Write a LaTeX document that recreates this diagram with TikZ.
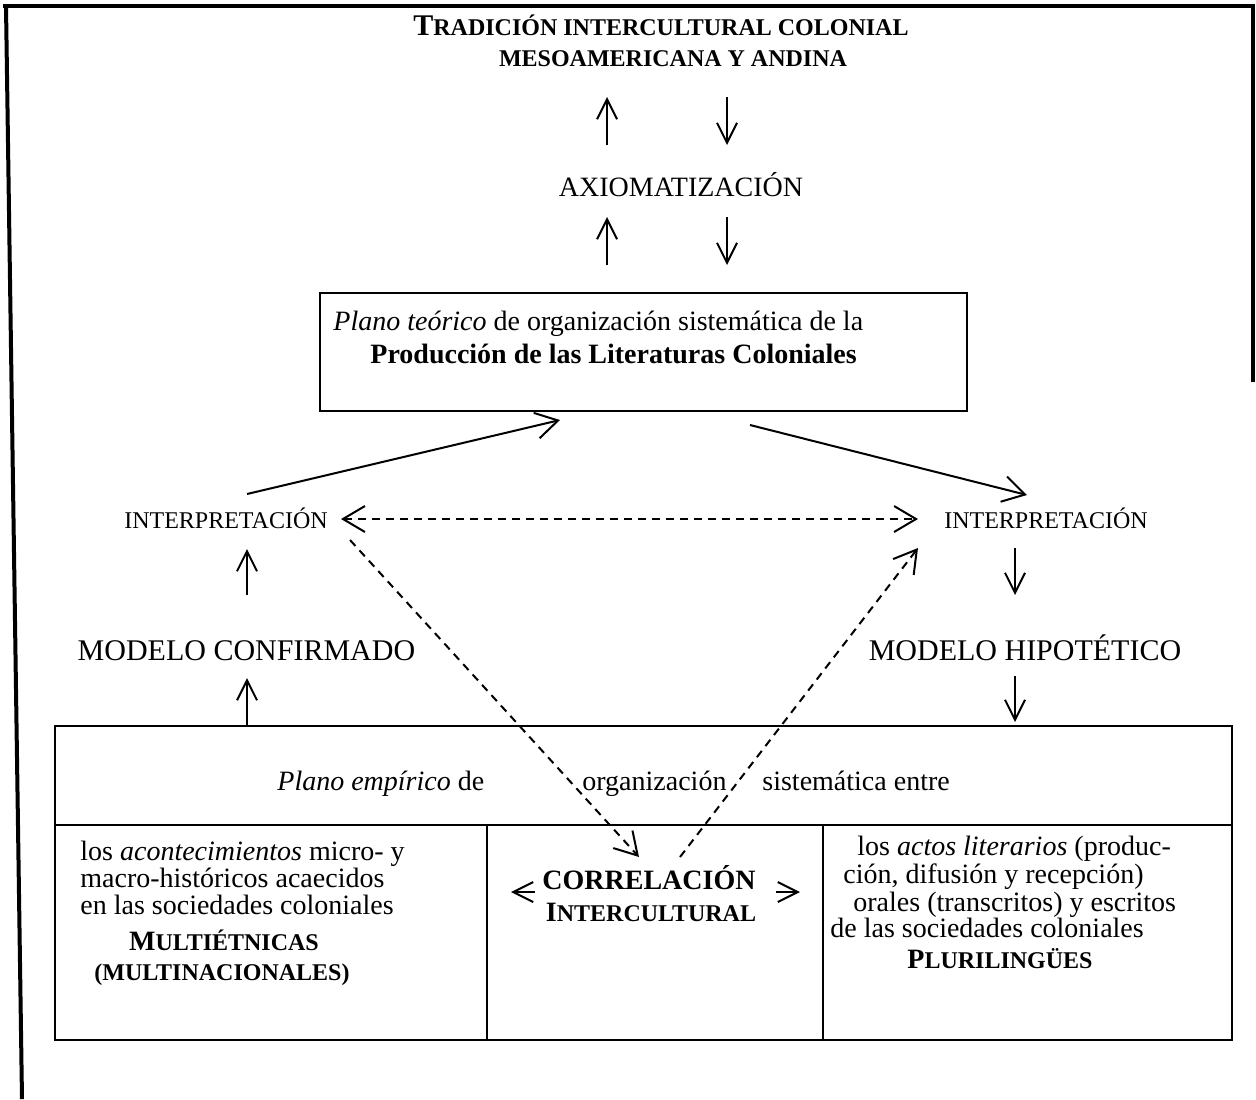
\documentclass[tikz,border=0pt]{standalone}
\usepackage{fontspec}
\setmainfont{Liberation Serif}
\usetikzlibrary{arrows.meta}
\newcommand\mysc[1]{{\fontsize{12}{14}\selectfont #1}}
\begin{document}
\begin{tikzpicture}[x=0.5pt,y=-0.5pt,
  lbl/.style={inner sep=0pt, anchor=base, font=\fontsize{14}{16}\selectfont},
  lblw/.style={inner sep=0pt, anchor=base west, font=\fontsize{14}{16}\selectfont},
  fr/.style={draw, line width=0.9pt, inner sep=0pt},
  arr/.style={line width=1pt, -{Straight Barb[length=10pt,width=10pt]}},
  sarr/.style={line width=1pt, -{Straight Barb[length=11pt,width=13pt]}},
  darr/.style={line width=1pt, dash pattern=on 4pt off 3pt, -{Straight Barb[length=11pt,width=13pt]}},
  ddarr/.style={line width=1pt, dash pattern=on 4pt off 3pt, {Straight Barb[length=11pt,width=13pt]}-{Straight Barb[length=11pt,width=13pt]}},
]
\useasboundingbox (0,0) rectangle (1256,1099);
% outer frame
\draw[line width=2pt, line join=miter] (1253,382) -- (1253,6) -- (3,6);
\draw[line width=2pt] (6,6) -- (22,1099);

% title
\node[lbl] (title1) at (661,35) {\textbf{{\fontsize{15}{18}\selectfont T}\mysc{RADICIÓN INTERCULTURAL COLONIAL}}};
\node[lbl] (title2) at (673,66) {\textbf{\mysc{MESOAMERICANA Y ANDINA}}};

% axiomatizacion
\node[lbl] (axiom) at (681,196) {AXIOMATIZACIÓN};
\coordinate (a1b) at (607,145); \coordinate (a1t) at (607,97);
\coordinate (b1t) at (727,97);  \coordinate (b1b) at (727,145);
\coordinate (a2b) at (607,265); \coordinate (a2t) at (607,217);
\coordinate (b2t) at (727,217); \coordinate (b2b) at (727,265);
\draw[arr] (a1b) -- (a1t);
\draw[arr] (b1t) -- (b1b);
\draw[arr] (a2b) -- (a2t);
\draw[arr] (b2t) -- (b2b);

% theoretical plane box
\node[fr, minimum width=323.5pt, minimum height=59pt] (teo) at (643.5,352) {};
\node[lblw] (teo1) at (333,330) {\textit{Plano teórico} de organización sistemática de la};
\node[lblw] (teo2) at (370,363) {\textbf{Producción de las Literaturas Coloniales}};

% interpretacion
\node[lbl, font=\fontsize{12}{14}\selectfont] (intL) at (226,528) {INTERPRETACIÓN};
\node[lbl, font=\fontsize{12}{14}\selectfont] (intR) at (1046,528) {INTERPRETACIÓN};
\coordinate (sL) at (247,494); \coordinate (eL) at (560,420);
\coordinate (sR) at (750,425); \coordinate (eR) at (1027,495);
\draw[sarr] (sL) -- (eL);
\draw[sarr] (sR) -- (eR);
\coordinate (dl) at (341,519); \coordinate (dr) at (918,519);
\draw[ddarr] (dl) -- (dr);

% modelos
\node[lbl, font=\fontsize{15}{18}\selectfont] (modC) at (246.5,660) {MODELO CONFIRMADO};
\node[lbl, font=\fontsize{15}{18}\selectfont] (modH) at (1025,660) {MODELO HIPOTÉTICO};
\coordinate (c1b) at (247,595); \coordinate (c1t) at (247,549);
\coordinate (c2b) at (247,725); \coordinate (c2t) at (247,678);
\draw[arr] (c1b) -- (c1t);
\draw[arr] (c2b) -- (c2t);
\coordinate (h1t) at (1015,548); \coordinate (h1b) at (1015,595);
\coordinate (h2t) at (1015,676); \coordinate (h2b) at (1015,722);
\draw[arr] (h1t) -- (h1b);
\draw[arr] (h2t) -- (h2b);

% empirical plane
\node[fr, minimum width=588.5pt, minimum height=49.5pt] (emp) at (643.5,775.5) {};
\node[fr, minimum width=216pt, minimum height=107.5pt] (cellL) at (271,932.5) {};
\node[fr, minimum width=168pt, minimum height=107.5pt] (cellM) at (655,932.5) {};
\node[fr, minimum width=204.5pt, minimum height=107.5pt] (cellR) at (1027.5,932.5) {};
\node[lblw] (emp1) at (277,790) {\textit{Plano empírico} de};
\node[lblw] (emp2) at (582,790) {organización};
\node[lblw] (emp3) at (762,790) {sistemática entre};

% left cell
\node[lblw] (l1) at (80,860) {los \textit{acontecimientos} micro- y};
\node[lblw] (l2) at (80,887) {macro-históricos acaecidos};
\node[lblw] (l3) at (80,914) {en las sociedades coloniales};
\node[lbl] (l4) at (224,950) {\textbf{M\mysc{ULTIÉTNICAS}}};
\node[lbl] (l5) at (222,980) {\textbf{\mysc{(MULTINACIONALES)}}};

% middle cell
\node[lbl] (m1) at (649,889) {\textbf{CORRELACIÓN}};
\node[lbl] (m2) at (651,921) {\textbf{I\mysc{NTERCULTURAL}}};
\coordinate (mla) at (535,892); \coordinate (mlb) at (511,892);
\coordinate (mra) at (776,892); \coordinate (mrb) at (800,892);
\draw[arr] (mla) -- (mlb);
\draw[arr] (mra) -- (mrb);

% right cell
\node[lblw] (r1) at (857,855) {los \textit{actos literarios} (produc-};
\node[lblw] (r2) at (843,883) {ción, difusión y recepción)};
\node[lblw] (r3) at (853,911) {orales (transcritos) y escritos};
\node[lblw] (r4) at (830,937) {de las sociedades coloniales};
\node[lbl] (r5) at (1000,968) {\textbf{P\mysc{LURILINGÜES}}};

% dashed diagonals
\coordinate (x1s) at (350,540); \coordinate (x1e) at (639,857);
\coordinate (x2s) at (680,857); \coordinate (x2e) at (918,548);
\draw[darr] (x1s) -- (x1e);
\draw[darr] (x2s) -- (x2e);
\end{tikzpicture}
\end{document}
